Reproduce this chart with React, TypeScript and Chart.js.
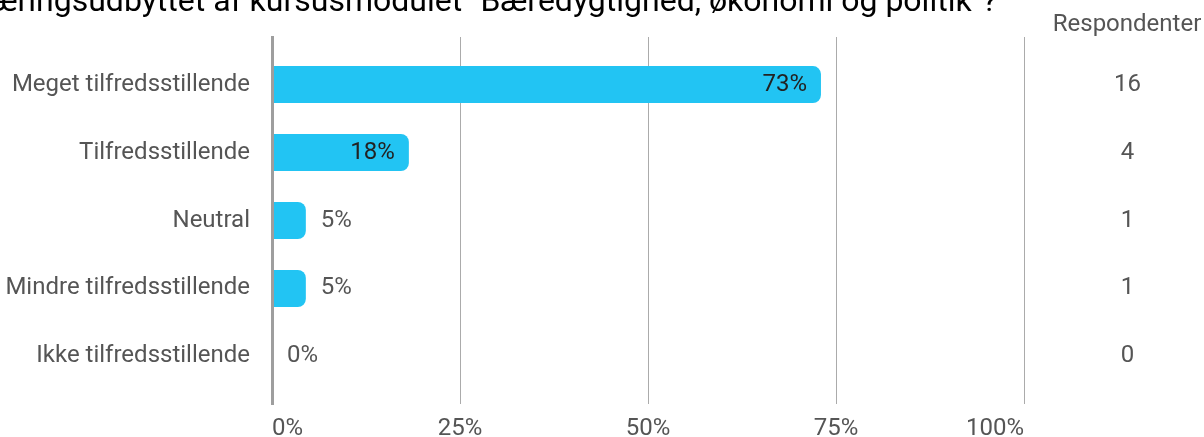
import { useEffect, useRef } from 'react';
import { Chart, registerables } from 'chart.js';

Chart.register(...registerables);

// ---- data ----
const TITLE = 'Hvordan vurderer du læringsudbyttet af kursusmodulet "Bæredygtighed, økonomi og politik"?';
const COLUMN_HEADER = 'Respondenter';
const categories = [
  'Meget tilfredsstillende',
  'Tilfredsstillende',
  'Neutral',
  'Mindre tilfredsstillende',
  'Ikke tilfredsstillende',
];
const shares = [73, 18.2, 4.5, 4.5, 0];
const respondents = [16, 4, 1, 1, 0];
const xTickValues = [0, 25, 50, 75, 100];

// ---- style ----
const BAR_COLOR = '#22c4f3';
const LABEL_COLOR = '#555555';
const INSIDE_LABEL_COLOR = '#222222';
const FONT_FAMILY = 'Roboto';
const FONT_SIZE = 24;

const valueLabels = {
  id: 'valueLabels',
  afterDatasetsDraw(chart: any) {
    const meta = chart.getDatasetMeta(0);
    const ctx = chart.ctx;
    ctx.save();
    ctx.font = `${FONT_SIZE}px ${FONT_FAMILY}`;
    ctx.textBaseline = 'middle';
    meta.data.forEach((bar: any, i: number) => {
      const text = `${Math.round(shares[i])}%`;
      const { x, y, base } = bar.getProps(['x', 'y', 'base'], true);
      const w = ctx.measureText(text).width;
      if (x - base > w + 30) {
        ctx.textAlign = 'right';
        ctx.fillStyle = INSIDE_LABEL_COLOR;
        ctx.fillText(text, x - 14, y);
      } else {
        ctx.textAlign = 'left';
        ctx.fillStyle = LABEL_COLOR;
        ctx.fillText(text, x + 15, y);
      }
    });
    ctx.restore();
  },
};

const headers = {
  id: 'headers',
  afterDraw(chart: any) {
    const ctx = chart.ctx;
    const area = chart.chartArea;
    ctx.save();
    ctx.textBaseline = 'alphabetic';
    ctx.font = `32px ${FONT_FAMILY}`;
    ctx.fillStyle = '#000000';
    ctx.textAlign = 'right';
    ctx.fillText(TITLE, area.right - 27, 11);
    ctx.font = `${FONT_SIZE}px ${FONT_FAMILY}`;
    ctx.fillStyle = LABEL_COLOR;
    ctx.textAlign = 'center';
    ctx.fillText(COLUMN_HEADER, area.right + 103, 31);
    ctx.restore();
  },
};

const keepCategoryTicks = (s: any) => {
  s.ticks = s.ticks.filter(
    (t: any) => Number.isInteger(t.value) && t.value >= 0 && t.value < categories.length
  );
};

export default function App() {
  const ref = useRef<HTMLCanvasElement>(null);

  useEffect(() => {
    document.body.style.margin = '0';
    const canvas = ref.current;
    if (!canvas) return;
    const font = { family: FONT_FAMILY, size: FONT_SIZE };
    const chart = new Chart(canvas, {
      type: 'bar',
      data: {
        datasets: [
          {
            data: shares.map((v, i) => ({ x: v, y: i })),
            backgroundColor: BAR_COLOR,
            borderRadius: 8,
            borderSkipped: 'start',
            barPercentage: 0.545,
            categoryPercentage: 1,
            yAxisID: 'y',
          } as any,
        ],
      },
      options: {
        indexAxis: 'y',
        responsive: false,
        animation: false,
        layout: { padding: { top: 37, left: 0, right: 0, bottom: 0 } },
        plugins: {
          legend: { display: false },
          tooltip: { enabled: false },
          title: { display: false },
        },
        scales: {
          x: {
            type: 'linear',
            position: 'bottom',
            min: 0,
            max: 100,
            afterBuildTicks: (s: any) => {
              s.ticks = xTickValues.map((value) => ({ value }));
            },
            ticks: {
              stepSize: 25,
              align: 'inner',
              callback: (v: any) => `${v}%`,
              color: LABEL_COLOR,
              font,
              padding: 11,
            },
            grid: { color: '#ababab', lineWidth: 1, drawTicks: false },
            border: { display: false },
            afterFit: (s: any) => {
              s.height = 33;
              s.paddingLeft = 0;
              s.paddingRight = 0;
            },
          },
          y: {
            type: 'linear',
            position: 'left',
            reverse: true,
            offset: false,
            min: -0.7,
            max: 4.7,
            afterBuildTicks: keepCategoryTicks,
            ticks: {
              stepSize: 1,
              autoSkip: false,
              callback: (v: any) => categories[v] ?? '',
              color: LABEL_COLOR,
              font,
              padding: 22,
            },
            grid: { display: false, drawTicks: false, offset: false },
            border: { display: true, color: '#9e9e9e', width: 3, z: 1 },
            afterFit: (s: any) => {
              s.width = 272;
              s.paddingTop = 0;
              s.paddingBottom = 0;
            },
          },
          y2: {
            type: 'linear',
            position: 'right',
            reverse: true,
            offset: false,
            min: -0.7,
            max: 4.7,
            afterBuildTicks: keepCategoryTicks,
            ticks: {
              stepSize: 1,
              autoSkip: false,
              crossAlign: 'center',
              callback: (v: any) => String(respondents[v] ?? ''),
              color: LABEL_COLOR,
              font,
              padding: 90,
            },
            grid: { display: false, drawTicks: false },
            border: { display: false },
            afterFit: (s: any) => {
              s.width = 180;
              s.paddingTop = 0;
              s.paddingBottom = 0;
            },
          },
        },
      } as any,
      plugins: [valueLabels, headers],
    });
    return () => chart.destroy();
  }, []);

  return (
    <div style={{ width: 1204, height: 437, overflow: 'hidden' }}>
      <canvas ref={ref} width={1204} height={437} style={{ display: 'block' }} />
    </div>
  );
}
